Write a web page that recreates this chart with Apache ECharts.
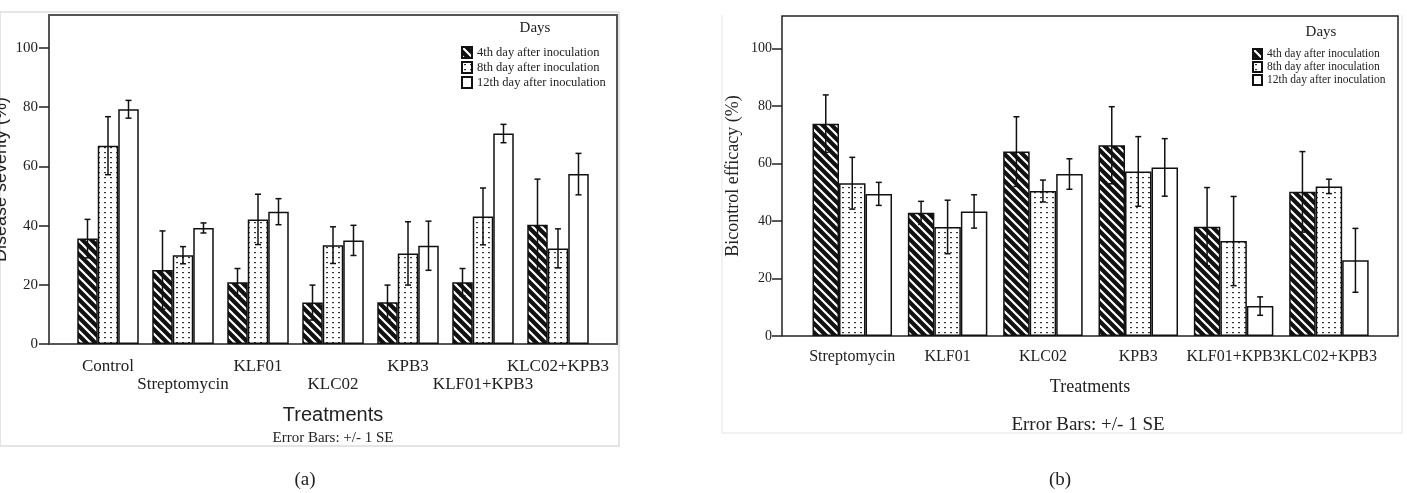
<!DOCTYPE html>
<html>
<head>
<meta charset="utf-8">
<script src="https://cdn.jsdelivr.net/npm/echarts@6/dist/echarts.min.js"></script>
<style>
  html, body { margin: 0; padding: 0; background: #fff; }
  #chart { width: 1407px; height: 493px; }
</style>
</head>
<body>
<div id="chart"></div>
<script>
// panel (a) - disease severity
var catsA = ['Control', 'Streptomycin', 'KLF01', 'KLC02', 'KPB3', 'KLF01+KPB3', 'KLC02+KPB3'];
var day4A = [35.6, 25.0, 20.9, 14.0, 14.1, 20.9, 40.3];
var day4A_se = [6.5, 13.2, 4.6, 5.9, 5.8, 4.6, 15.4];
var day8A = [67.0, 30.0, 42.1, 33.4, 30.6, 43.1, 32.3];
var day8A_se = [9.8, 2.9, 8.5, 6.2, 10.7, 9.6, 6.6];
var day12A = [79.3, 39.2, 44.7, 35.0, 33.2, 71.1, 57.4];
var day12A_se = [3.0, 1.7, 4.4, 5.1, 8.3, 3.1, 7.0];

// panel (b) - biocontrol efficacy
var catsB = ['Streptomycin', 'KLF01', 'KLC02', 'KPB3', 'KLF01+KPB3', 'KLC02+KPB3'];
var day4B = [73.8, 42.8, 64.1, 66.3, 38.0, 50.1];
var day4B_se = [10.0, 4.0, 12.1, 13.4, 13.6, 14.0];
var day8B = [53.1, 37.9, 50.4, 57.2, 33.0, 52.0];
var day8B_se = [9.0, 9.3, 3.8, 12.1, 15.5, 2.5];
var day12B = [49.4, 43.3, 56.3, 58.6, 10.4, 26.3];
var day12B_se = [4.0, 5.8, 5.3, 10.0, 3.2, 11.1];

var yTicks = [0, 20, 40, 60, 80, 100];
var names = ['4th day after inoculation', '8th day after inoculation', '12th day after inoculation'];

var SERIF = "'Liberation Serif', 'Times New Roman', serif";
var SANS = "'Liberation Sans', Arial, sans-serif";

function hatch(size, lw) {
    var c = document.createElement('canvas');
    c.width = c.height = size;
    var g = c.getContext('2d');
    g.fillStyle = '#111';
    g.fillRect(0, 0, size, size);
    g.strokeStyle = '#fff';
    g.lineWidth = lw;
    g.beginPath();
    g.moveTo(-size, -size); g.lineTo(size * 2, size * 2);
    g.moveTo(-size, 0); g.lineTo(size, size * 2);
    g.moveTo(0, -size); g.lineTo(size * 2, size);
    g.stroke();
    return { image: c, repeat: 'repeat' };
}

function dots(w, h) {
    var c = document.createElement('canvas');
    c.width = w; c.height = h;
    var g = c.getContext('2d');
    g.fillStyle = '#fff';
    g.fillRect(0, 0, w, h);
    g.fillStyle = '#333';
    g.fillRect(2, 2, 2, 1.2);
    return { image: c, repeat: 'repeat' };
}

var fills = [hatch(9, 2.2), dots(6, 5), '#fff'];

function errData(vals, ses) {
    var out = [];
    for (var k = 0; k < vals.length; k++) {
        for (var i = 0; i < vals[k].length; i++) {
            out.push([i, k, vals[k][i], ses[k][i]]);
        }
    }
    return out;
}

function errRender(barW) {
    return function (params, api) {
        var i = api.value(0), k = api.value(1), v = api.value(2), se = api.value(3);
        var hi = api.coord([i, v + se]);
        var lo = api.coord([i, v - se]);
        var x = hi[0] + (k - 1) * barW;
        var st = { stroke: '#111', lineWidth: 1.5 };
        return {
            type: 'group',
            children: [
                { type: 'line', shape: { x1: x, y1: hi[1], x2: x, y2: lo[1] }, style: st },
                { type: 'line', shape: { x1: x - 3, y1: hi[1], x2: x + 3, y2: hi[1] }, style: st },
                { type: 'line', shape: { x1: x - 3, y1: lo[1], x2: x + 3, y2: lo[1] }, style: st }
            ]
        };
    };
}

function hiddenAxis(grid, extra) {
    var a = {
        type: 'value', gridIndex: grid, min: 0, max: 1,
        axisLine: { show: false }, axisTick: { show: false },
        axisLabel: { show: false }, splitLine: { show: false }
    };
    for (var key in extra) a[key] = extra[key];
    return a;
}

var barWA = 20.5, barWB = 26.5;
var series = [];
var valsA = [day4A, day8A, day12A], sesA = [day4A_se, day8A_se, day12A_se];
var valsB = [day4B, day8B, day12B], sesB = [day4B_se, day8B_se, day12B_se];

for (var k = 0; k < 3; k++) {
    series.push({
        name: names[k], type: 'bar', xAxisIndex: 1, yAxisIndex: 1,
        barWidth: barWA, barGap: '0%', data: valsA[k],
        itemStyle: { color: fills[k], borderColor: '#111', borderWidth: 1.5 },
        emphasis: { disabled: true }
    });
}
for (var k = 0; k < 3; k++) {
    series.push({
        name: names[k], type: 'bar', xAxisIndex: 4, yAxisIndex: 3,
        barWidth: barWB, barGap: '0%', data: valsB[k],
        itemStyle: { color: fills[k], borderColor: '#111', borderWidth: 1.5 },
        emphasis: { disabled: true }
    });
}
series.push({
    type: 'custom', xAxisIndex: 1, yAxisIndex: 1, z: 5,
    encode: { x: 0, y: 2 }, data: errData(valsA, sesA), renderItem: errRender(barWA)
});
series.push({
    type: 'custom', xAxisIndex: 4, yAxisIndex: 3, z: 5,
    encode: { x: 0, y: 2 }, data: errData(valsB, sesB), renderItem: errRender(barWB)
});

var option = {
    animation: false,
    backgroundColor: '#fff',
    grid: [
        { left: 49, top: 15, width: 568, height: 329, show: true, borderColor: '#555', borderWidth: 2, backgroundColor: 'transparent', outerBoundsMode: 'none', containLabel: false },
        { left: 70.5, top: 48, width: 525, height: 296, outerBoundsMode: 'none', containLabel: false },
        { left: 782, top: 16, width: 616, height: 320, show: true, borderColor: '#222', borderWidth: 1.5, backgroundColor: 'transparent', outerBoundsMode: 'none', containLabel: false },
        { left: 804.6, top: 48.3, width: 572, height: 287.7, outerBoundsMode: 'none', containLabel: false }
    ],
    xAxis: [
        hiddenAxis(0, {
            name: 'Treatments', nameLocation: 'middle', nameGap: 61,
            nameTextStyle: { fontFamily: SANS, fontSize: 20, color: '#222' }
        }),
        {
            type: 'category', gridIndex: 1, position: 'bottom', data: catsA,
            axisLine: { show: false },
            axisTick: { alignWithLabel: true, length: 10, lineStyle: { color: '#222', width: 1.5 },
                interval: function (i) { return i % 2 === 0; } },
            axisLabel: { fontFamily: SERIF, fontSize: 17, color: '#222', margin: 14,
                interval: function (i) { return i % 2 === 0; } }
        },
        {
            type: 'category', gridIndex: 1, position: 'bottom', data: catsA,
            axisLine: { show: false },
            axisTick: { alignWithLabel: true, length: 29, lineStyle: { color: '#222', width: 1.5 },
                interval: function (i) { return i % 2 === 1; } },
            axisLabel: { fontFamily: SERIF, fontSize: 17, color: '#222', margin: 32,
                interval: function (i) { return i % 2 === 1; } }
        },
        hiddenAxis(2, {
            name: 'Treatments', nameLocation: 'middle', nameGap: 42,
            nameTextStyle: { fontFamily: SERIF, fontSize: 18, color: '#222' }
        }),
        {
            type: 'category', gridIndex: 3, position: 'bottom', data: catsB,
            axisLine: { show: false },
            axisTick: { alignWithLabel: true, length: 9, lineStyle: { color: '#222', width: 1.5 } },
            axisLabel: { fontFamily: SERIF, fontSize: 16, color: '#222', margin: 13, interval: 0 }
        }
    ],
    yAxis: [
        hiddenAxis(0, {
            name: 'Disease severity (%)', nameLocation: 'middle', nameGap: 39,
            nameTextStyle: { fontFamily: SANS, fontSize: 18, color: '#222' }
        }),
        {
            type: 'value', gridIndex: 1, min: yTicks[0], max: yTicks[yTicks.length - 1], interval: 20,
            offset: 21.5,
            axisLine: { show: false },
            axisTick: { show: true, length: 10, lineStyle: { color: '#222', width: 1.5 } },
            axisLabel: { fontFamily: SERIF, fontSize: 15, color: '#222', margin: 11 },
            splitLine: { show: false }
        },
        hiddenAxis(2, {
            name: 'Bicontrol efficacy (%)', nameLocation: 'middle', nameGap: 40,
            nameTextStyle: { fontFamily: SERIF, fontSize: 18, color: '#222' }
        }),
        {
            type: 'value', gridIndex: 3, min: yTicks[0], max: yTicks[yTicks.length - 1], interval: 20,
            offset: 22.6,
            axisLine: { show: false },
            axisTick: { show: true, length: 10, lineStyle: { color: '#222', width: 1.5 } },
            axisLabel: { fontFamily: SERIF, fontSize: 14, color: '#222', margin: 10 },
            splitLine: { show: false }
        }
    ],
    legend: [
        {
            left: 461, top: 46, orient: 'vertical', icon: 'rect', padding: 0,
            itemWidth: 10, itemHeight: 11, itemGap: 2, selectedMode: false,
            data: names, textStyle: { fontFamily: SERIF, fontSize: 12.5, lineHeight: 13, color: '#222' }
        },
        {
            left: 1252, top: 48, orient: 'vertical', icon: 'rect', padding: 0,
            itemWidth: 9, itemHeight: 10, itemGap: 1, selectedMode: false,
            data: names, textStyle: { fontFamily: SERIF, fontSize: 11.5, lineHeight: 12, color: '#222' }
        }
    ],
    graphic: [
        { type: 'rect', shape: { x: 0, y: 12, width: 619, height: 434 }, style: { fill: 'none', stroke: '#ddd', lineWidth: 1.5 }, z: -10 },
        { type: 'polyline', shape: { points: [[722, 15], [722, 433], [1402, 433], [1402, 15]] }, style: { fill: 'none', stroke: '#eee', lineWidth: 1.5 }, z: -10 },
        { type: 'text', x: 535, y: 28, style: { text: 'Days', font: '15px ' + SERIF, fill: '#222', align: 'center', verticalAlign: 'middle' } },
        { type: 'text', x: 1321, y: 32, style: { text: 'Days', font: '15px ' + SERIF, fill: '#222', align: 'center', verticalAlign: 'middle' } },
        { type: 'text', x: 333, y: 438, style: { text: 'Error Bars: +/- 1 SE', font: '15px ' + SERIF, fill: '#222', align: 'center', verticalAlign: 'middle' } },
        { type: 'text', x: 1088, y: 425, style: { text: 'Error Bars: +/- 1 SE', font: '19px ' + SERIF, fill: '#222', align: 'center', verticalAlign: 'middle' } },
        { type: 'text', x: 305, y: 480, style: { text: '(a)', font: '19px ' + SERIF, fill: '#222', align: 'center', verticalAlign: 'middle' } },
        { type: 'text', x: 1060, y: 480, style: { text: '(b)', font: '19px ' + SERIF, fill: '#222', align: 'center', verticalAlign: 'middle' } }
    ],
    series: series
};

var myChart = echarts.init(document.getElementById('chart'));
myChart.setOption(option);
</script>
</body>
</html>
